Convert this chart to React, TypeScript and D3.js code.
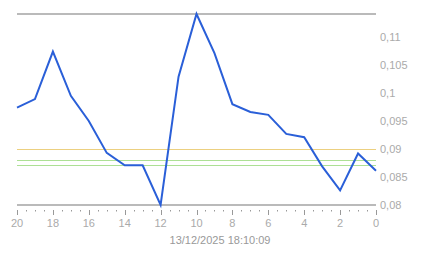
import React, { useEffect, useRef } from "react";
import * as d3 from "d3";

const xValues = [20, 19, 18, 17, 16, 15, 14, 13, 12, 11, 10, 9, 8, 7, 6, 5, 4, 3, 2, 1, 0];
const yValues = [0.0974, 0.0989, 0.1074, 0.0995, 0.095, 0.0893, 0.0871, 0.0871, 0.08, 0.1029, 0.1141, 0.1071, 0.098, 0.0966, 0.0961, 0.0927, 0.0921, 0.0869, 0.0826, 0.0892, 0.0861];
const yTicks = [0.08, 0.085, 0.09, 0.095, 0.1, 0.105, 0.11];
const xTicks = [20, 18, 16, 14, 12, 10, 8, 6, 4, 2, 0];
const refLines = [
  { value: 0.09, color: "#ecd080" },
  { value: 0.088, color: "#ade095" },
  { value: 0.0872, color: "#ade095" },
];
const title = "13/12/2025 18:10:09";

export default function App() {
  const ref = useRef<SVGSVGElement>(null);
  useEffect(() => {
    const svg = d3.select(ref.current);
    svg.selectAll("*").remove();
    const x = d3.scaleLinear().domain([20, 0]).range([17, 376]);
    const yMin = d3.min(yValues)!;
    const yMax = d3.max(yValues)!;
    const y = d3.scaleLinear().domain([yMin, yMax]).range([205, 14]);
    const fmt = (v: number) => String(+v.toFixed(4)).replace(".", ",");
    const font = "Liberation Sans, Arial, sans-serif";

    refLines.forEach((r) => {
      svg.append("line").attr("x1", 17).attr("x2", 376)
        .attr("y1", Math.round(y(r.value)) + 0.5).attr("y2", Math.round(y(r.value)) + 0.5)
        .attr("stroke", r.color).attr("stroke-width", 1);
    });
    [yMax, yMin].forEach((v) => {
      svg.append("line").attr("x1", 17).attr("x2", 376)
        .attr("y1", y(v)).attr("y2", y(v))
        .attr("stroke", "#777").attr("stroke-width", 1.2);
    });
    for (let t = 0; t <= 40; t++) {
      const v = t / 2;
      const major = v % 2 === 0;
      svg.append("line").attr("x1", Math.round(x(v)) + 0.5).attr("x2", Math.round(x(v)) + 0.5)
        .attr("y1", 210).attr("y2", major ? 215 : 211.5)
        .attr("stroke", "#999").attr("stroke-width", 1);
    }
    xTicks.forEach((v) => {
      svg.append("text").attr("x", x(v)).attr("y", 227).attr("text-anchor", "middle")
        .attr("font-family", font).attr("font-size", 11).attr("fill", "#aaa").text(String(v));
    });
    yTicks.forEach((v) => {
      svg.append("text").attr("x", 380).attr("y", y(v) + 4).attr("text-anchor", "start")
        .attr("font-family", font).attr("font-size", 11).attr("fill", "#aaa").text(fmt(v));
    });
    svg.append("text").attr("x", 220).attr("y", 244).attr("text-anchor", "middle")
      .attr("font-family", font).attr("font-size", 11).attr("fill", "#999").text(title);

    const line = d3.line<number>().x((_, i) => x(xValues[i])).y((d) => y(d));
    svg.append("path").datum(yValues).attr("d", line).attr("fill", "none")
      .attr("stroke", "#2a5fd8").attr("stroke-width", 2).attr("stroke-linejoin", "miter");
  }, []);
  return (
    <svg ref={ref} width={443} height={258}
      style={{ position: "absolute", left: 0, top: 0, background: "#fff" }} />
  );
}
